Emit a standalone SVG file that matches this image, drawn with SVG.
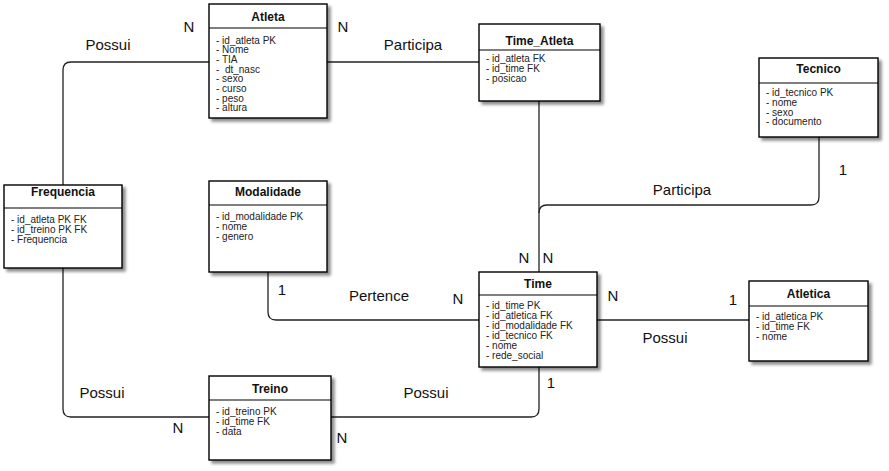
<svg xmlns="http://www.w3.org/2000/svg" width="889" height="471" viewBox="0 0 889 471">
  <style>
    .box { fill: #ffffff; stroke: #000000; stroke-width: 1.4; filter: url(#shadow); }
    .sep { stroke: #000000; stroke-width: 1.2; }
    .title { font-family: "Liberation Sans", Arial, sans-serif; font-size: 12px; font-weight: bold; fill: #111; text-anchor: middle; }
    .attr { font-family: "Liberation Sans", Arial, sans-serif; font-size: 10px; fill: #222; white-space: pre; }
    .lbl { font-family: "Liberation Sans", Arial, sans-serif; font-size: 15px; fill: #111; text-anchor: middle; }
    .conn { fill: none; stroke: #222; stroke-width: 1.3; }
  </style>
  <defs>
    <filter id="shadow" x="-10%" y="-10%" width="125%" height="125%">
      <feDropShadow dx="3" dy="3" stdDeviation="1.5" flood-color="#000" flood-opacity="0.45"/>
    </filter>
  </defs>
  <rect width="889" height="471" fill="#ffffff"/>

  <!-- relationship lines -->
  <g id="connectors">
    <path class="conn" d="M209,62 H71 Q63,62 63,70 V185"/>
    <path class="conn" d="M327,62 H479"/>
    <path class="conn" d="M539,101 V272"/>
    <path class="conn" d="M819,137 V197 Q819,205 811,205 H547 Q539,205 539,213"/>
    <path class="conn" d="M268,272 V312 Q268,320 276,320 H479"/>
    <path class="conn" d="M597,320 H749"/>
    <path class="conn" d="M63,268 V409 Q63,417 71,417 H209"/>
    <path class="conn" d="M331,417 H531 Q539,417 539,409 V367"/>
  </g>

  <!-- cardinality and relationship labels -->
  <g id="labels">
    <text class="lbl" x="189" y="32">N</text>
    <text class="lbl" x="343" y="32">N</text>
    <text class="lbl" x="108" y="50">Possui</text>
    <text class="lbl" x="413" y="50">Participa</text>
    <text class="lbl" x="682" y="195">Participa</text>
    <text class="lbl" x="843" y="175">1</text>
    <text class="lbl" x="524" y="263">N</text>
    <text class="lbl" x="548" y="263">N</text>
    <text class="lbl" x="282" y="295">1</text>
    <text class="lbl" x="379" y="301">Pertence</text>
    <text class="lbl" x="458" y="304">N</text>
    <text class="lbl" x="613" y="301">N</text>
    <text class="lbl" x="733" y="305">1</text>
    <text class="lbl" x="665" y="343">Possui</text>
    <text class="lbl" x="102" y="398">Possui</text>
    <text class="lbl" x="426" y="398">Possui</text>
    <text class="lbl" x="551" y="388">1</text>
    <text class="lbl" x="178" y="433">N</text>
    <text class="lbl" x="342" y="443">N</text>
  </g>

  <g id="atleta">
    <rect class="box" x="209" y="4" width="118" height="114"/>
    <line class="sep" x1="209" y1="28" x2="327" y2="28"/>
    <text class="title" x="268" y="20.5">Atleta</text>
    <text class="attr" x="216" y="43.5">- id_atleta PK</text>
    <text class="attr" x="216" y="53.2">- Nome</text>
    <text class="attr" x="216" y="62.9">- TIA</text>
    <text class="attr" x="216" y="72.6">-  dt_nasc</text>
    <text class="attr" x="216" y="82.3">- sexo</text>
    <text class="attr" x="216" y="92">- curso</text>
    <text class="attr" x="216" y="101.7">- peso</text>
    <text class="attr" x="216" y="111.4">- altura</text>
  </g>

  <g id="time_atleta">
    <rect class="box" x="479" y="24" width="121" height="77"/>
    <line class="sep" x1="479" y1="50" x2="600" y2="50"/>
    <text class="title" x="539.5" y="45">Time_Atleta</text>
    <text class="attr" x="486" y="62">- id_atleta FK</text>
    <text class="attr" x="486" y="72">- id_time FK</text>
    <text class="attr" x="486" y="82">- posicao</text>
  </g>

  <g id="tecnico">
    <rect class="box" x="759" y="58" width="119" height="79"/>
    <line class="sep" x1="759" y1="83" x2="878" y2="83"/>
    <text class="title" x="818.5" y="73">Tecnico</text>
    <text class="attr" x="766" y="96">- id_tecnico PK</text>
    <text class="attr" x="766" y="105.8">- nome</text>
    <text class="attr" x="766" y="115.6">- sexo</text>
    <text class="attr" x="766" y="125.4">- documento</text>
  </g>

  <g id="frequencia">
    <rect class="box" x="4" y="185" width="118" height="83"/>
    <line class="sep" x1="4" y1="208" x2="122" y2="208"/>
    <text class="title" x="63" y="195.5">Frequencia</text>
    <text class="attr" x="11" y="223">- id_atleta PK FK</text>
    <text class="attr" x="11" y="232.8">- id_treino PK FK</text>
    <text class="attr" x="11" y="242.6">- Frequencia</text>
  </g>

  <g id="modalidade">
    <rect class="box" x="209" y="181" width="118" height="91"/>
    <line class="sep" x1="209" y1="205" x2="327" y2="205"/>
    <text class="title" x="268" y="196">Modalidade</text>
    <text class="attr" x="216" y="220">- id_modalidade PK</text>
    <text class="attr" x="216" y="229.8">- nome</text>
    <text class="attr" x="216" y="239.6">- genero</text>
  </g>

  <g id="time">
    <rect class="box" x="479" y="272" width="118" height="95"/>
    <line class="sep" x1="479" y1="295" x2="597" y2="295"/>
    <text class="title" x="538" y="288">Time</text>
    <text class="attr" x="486" y="308.5">- id_time PK</text>
    <text class="attr" x="486" y="318.5">- id_atletica FK</text>
    <text class="attr" x="486" y="328.6">- id_modalidade FK</text>
    <text class="attr" x="486" y="338.6">- id_tecnico FK</text>
    <text class="attr" x="486" y="348.7">- nome</text>
    <text class="attr" x="486" y="358.8">- rede_social</text>
  </g>

  <g id="atletica">
    <rect class="box" x="749" y="281" width="119" height="80"/>
    <line class="sep" x1="749" y1="306" x2="868" y2="306"/>
    <text class="title" x="808.5" y="298">Atletica</text>
    <text class="attr" x="756" y="320">- id_atletica PK</text>
    <text class="attr" x="756" y="329.8">- id_time FK</text>
    <text class="attr" x="756" y="339.6">- nome</text>
  </g>

  <g id="treino">
    <rect class="box" x="209" y="376" width="122" height="84"/>
    <line class="sep" x1="209" y1="400" x2="331" y2="400"/>
    <text class="title" x="270" y="393">Treino</text>
    <text class="attr" x="216" y="415">- id_treino PK</text>
    <text class="attr" x="216" y="424.8">- id_time FK</text>
    <text class="attr" x="216" y="434.6">- data</text>
  </g>
</svg>
